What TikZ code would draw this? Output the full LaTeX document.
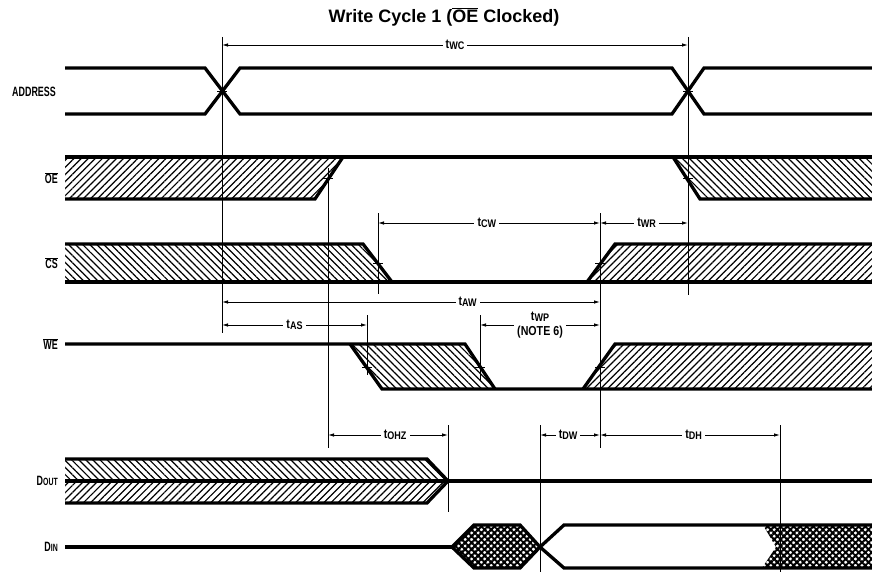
\documentclass[tikz,border=0pt]{standalone}
\usepackage{fontspec}
\setmainfont{Liberation Sans}
\newfontfamily\condfont{Liberation Sans}[FakeStretch=0.66]
\newfontfamily\timefont{Liberation Sans}[FakeStretch=0.82]
\usetikzlibrary{arrows.meta, patterns.meta}
\newcommand{\tsub}[1]{t\raisebox{-1.5pt}{\fontsize{11}{11}\selectfont #1}}
\newcommand{\timespan}[5]
{
	\draw[dimline] (#2,#1) -- node[tlbl, pos=#4] {#5} (#3,#1)
}
\newcommand{\guide}[3]
{
	\draw[guideline] (#1,#2) -- (#1,#3)
}
\newcommand{\tick}[2]
{
	\draw[guideline] (#1-5,#2) -- (#1+5,#2)
}

\begin{document}
\begin{tikzpicture}[x=1pt, y=-1pt,
	sig/.style={line width=3.3pt, line join=miter},
	guideline/.style={line width=0.9pt},
	dimline/.style={line width=0.9pt,
		{Latex[length=6pt,width=3.5pt]}-{Latex[length=6pt,width=3.5pt]}},
	hatchne/.style={pattern={Lines[angle=45,distance=5pt,line width=1.2pt]}},
	hatchnw/.style={pattern={Lines[angle=-45,distance=5pt,line width=1.2pt]}},
	xhatch/.style={pattern={Hatch[angle=45,distance=4.6pt,line width=2pt]}},
	signame/.style={anchor=east, inner sep=0pt,
		font=\condfont\bfseries\fontsize{13.5}{13.5}\selectfont},
	tlbl/.style={fill=white, inner xsep=3pt, inner ysep=1pt, align=center,
		font=\timefont\bfseries\fontsize{13}{12}\selectfont}]
	\useasboundingbox (0,0) rectangle (872,572);

	\node[font=\bfseries\fontsize{18}{18}\selectfont] (title) at (444,17)
		{Write Cycle 1 ($\overline{\mbox{OE}}$ Clocked)};

	% signal names
	\node[signame] (address) at (56,92) {ADDRESS};
	\node[signame] (oe) at (58,178) {$\overline{\mbox{OE}}$};
	\node[signame] (cs) at (58,263) {$\overline{\mbox{CS}}$};
	\node[signame] (we) at (58,344) {$\overline{\mbox{WE}}$};
	\node[signame] (dout) at (58,481) {D{\fontsize{10.5}{10.5}\selectfont OUT}};
	\node[signame] (din) at (58,547) {D{\fontsize{10.5}{10.5}\selectfont IN}};

	% hatched areas
	\fill[hatchne] (65,157) -- (343,157) -- (315,199) -- (65,199) -- cycle;
	\fill[hatchnw] (673,157) -- (872,157) -- (872,199) -- (700,199) -- cycle;
	\fill[hatchnw] (65,244) -- (363,244) -- (392,282) -- (65,282) -- cycle;
	\fill[hatchne] (587,282) -- (615,244) -- (872,244) -- (872,282) -- cycle;
	\fill[hatchnw] (350,344) -- (465,344) -- (495,389) -- (382,389) -- cycle;
	\fill[hatchne] (583,389) -- (615,344) -- (872,344) -- (872,389) -- cycle;
	\fill[hatchnw] (65,459) -- (427,459) -- (448,481) -- (65,481) -- cycle;
	\fill[hatchne] (65,481) -- (448,481) -- (427,503) -- (65,503) -- cycle;
	\fill[xhatch] (452,547) -- (474,525) -- (520,525) -- (540,547) -- (520,568) -- (474,568) -- cycle;
	\fill[xhatch] (763,525) -- (872,525) -- (872,568) -- (762,568) -- (776,547) -- cycle;

	% ADDRESS
	\draw[sig] (65,68) -- (205,68) -- (240,114) -- (672,114) -- (704,68) -- (872,68);
	\draw[sig] (65,114) -- (205,114) -- (240,68) -- (672,68) -- (704,114) -- (872,114);
	% OE
	\draw[sig] (65,157) -- (872,157);
	\draw[sig] (65,199) -- (315,199) -- (343,157);
	\draw[sig] (673,157) -- (700,199) -- (872,199);
	% CS
	\draw[sig] (65,244) -- (363,244) -- (392,282);
	\draw[sig] (65,282) -- (872,282);
	\draw[sig] (587,282) -- (615,244) -- (872,244);
	% WE
	\draw[sig] (65,344) -- (465,344) -- (495,389);
	\draw[sig] (350,344) -- (382,389) -- (872,389);
	\draw[sig] (583,389) -- (615,344) -- (872,344);
	% DOUT
	\draw[sig] (65,459) -- (427,459) -- (448,481) -- (427,503) -- (65,503);
	\draw[sig] (65,481) -- (872,481);
	% DIN
	\draw[sig] (65,547) -- (452,547);
	\draw[sig] (452,547) -- (474,525) -- (520,525) -- (540,547)
		-- (520,568) -- (474,568) -- cycle;
	\draw[sig] (872,525) -- (564,525) -- (540,547) -- (564,568) -- (872,568);

	% reference lines
	\guide{222}{37}{333};
	\guide{688}{37}{295};
	\guide{328}{168}{448};
	\guide{378}{213}{294};
	\guide{600}{213}{448};
	\guide{367}{315}{375};
	\guide{480}{315}{380};
	\guide{448}{425}{512};
	\guide{540}{425}{572};
	\guide{780}{425}{572};

	% crossing ticks
	\tick{222}{91};
	\tick{688}{91};
	\tick{328}{178};
	\tick{688}{178};
	\tick{378}{263};
	\tick{600}{263};
	\tick{367}{367};
	\tick{480}{367};
	\tick{600}{367};

	% timing intervals
	\timespan{45}{222}{688}{0.5}{\tsub{WC}};
	\timespan{223}{378}{600}{0.49}{\tsub{CW}};
	\timespan{223}{600}{688}{0.53}{\tsub{WR}};
	\timespan{302}{222}{600}{0.65}{\tsub{AW}};
	\timespan{325}{222}{367}{0.5}{\tsub{AS}};
	\timespan{325}{480}{600}{0.5}{\tsub{WP}\\[3pt](NOTE 6)};
	\timespan{435}{328}{448}{0.56}{\tsub{OHZ}};
	\timespan{435}{540}{600}{0.47}{\tsub{DW}};
	\timespan{435}{600}{780}{0.52}{\tsub{DH}};
\end{tikzpicture}
\end{document}
